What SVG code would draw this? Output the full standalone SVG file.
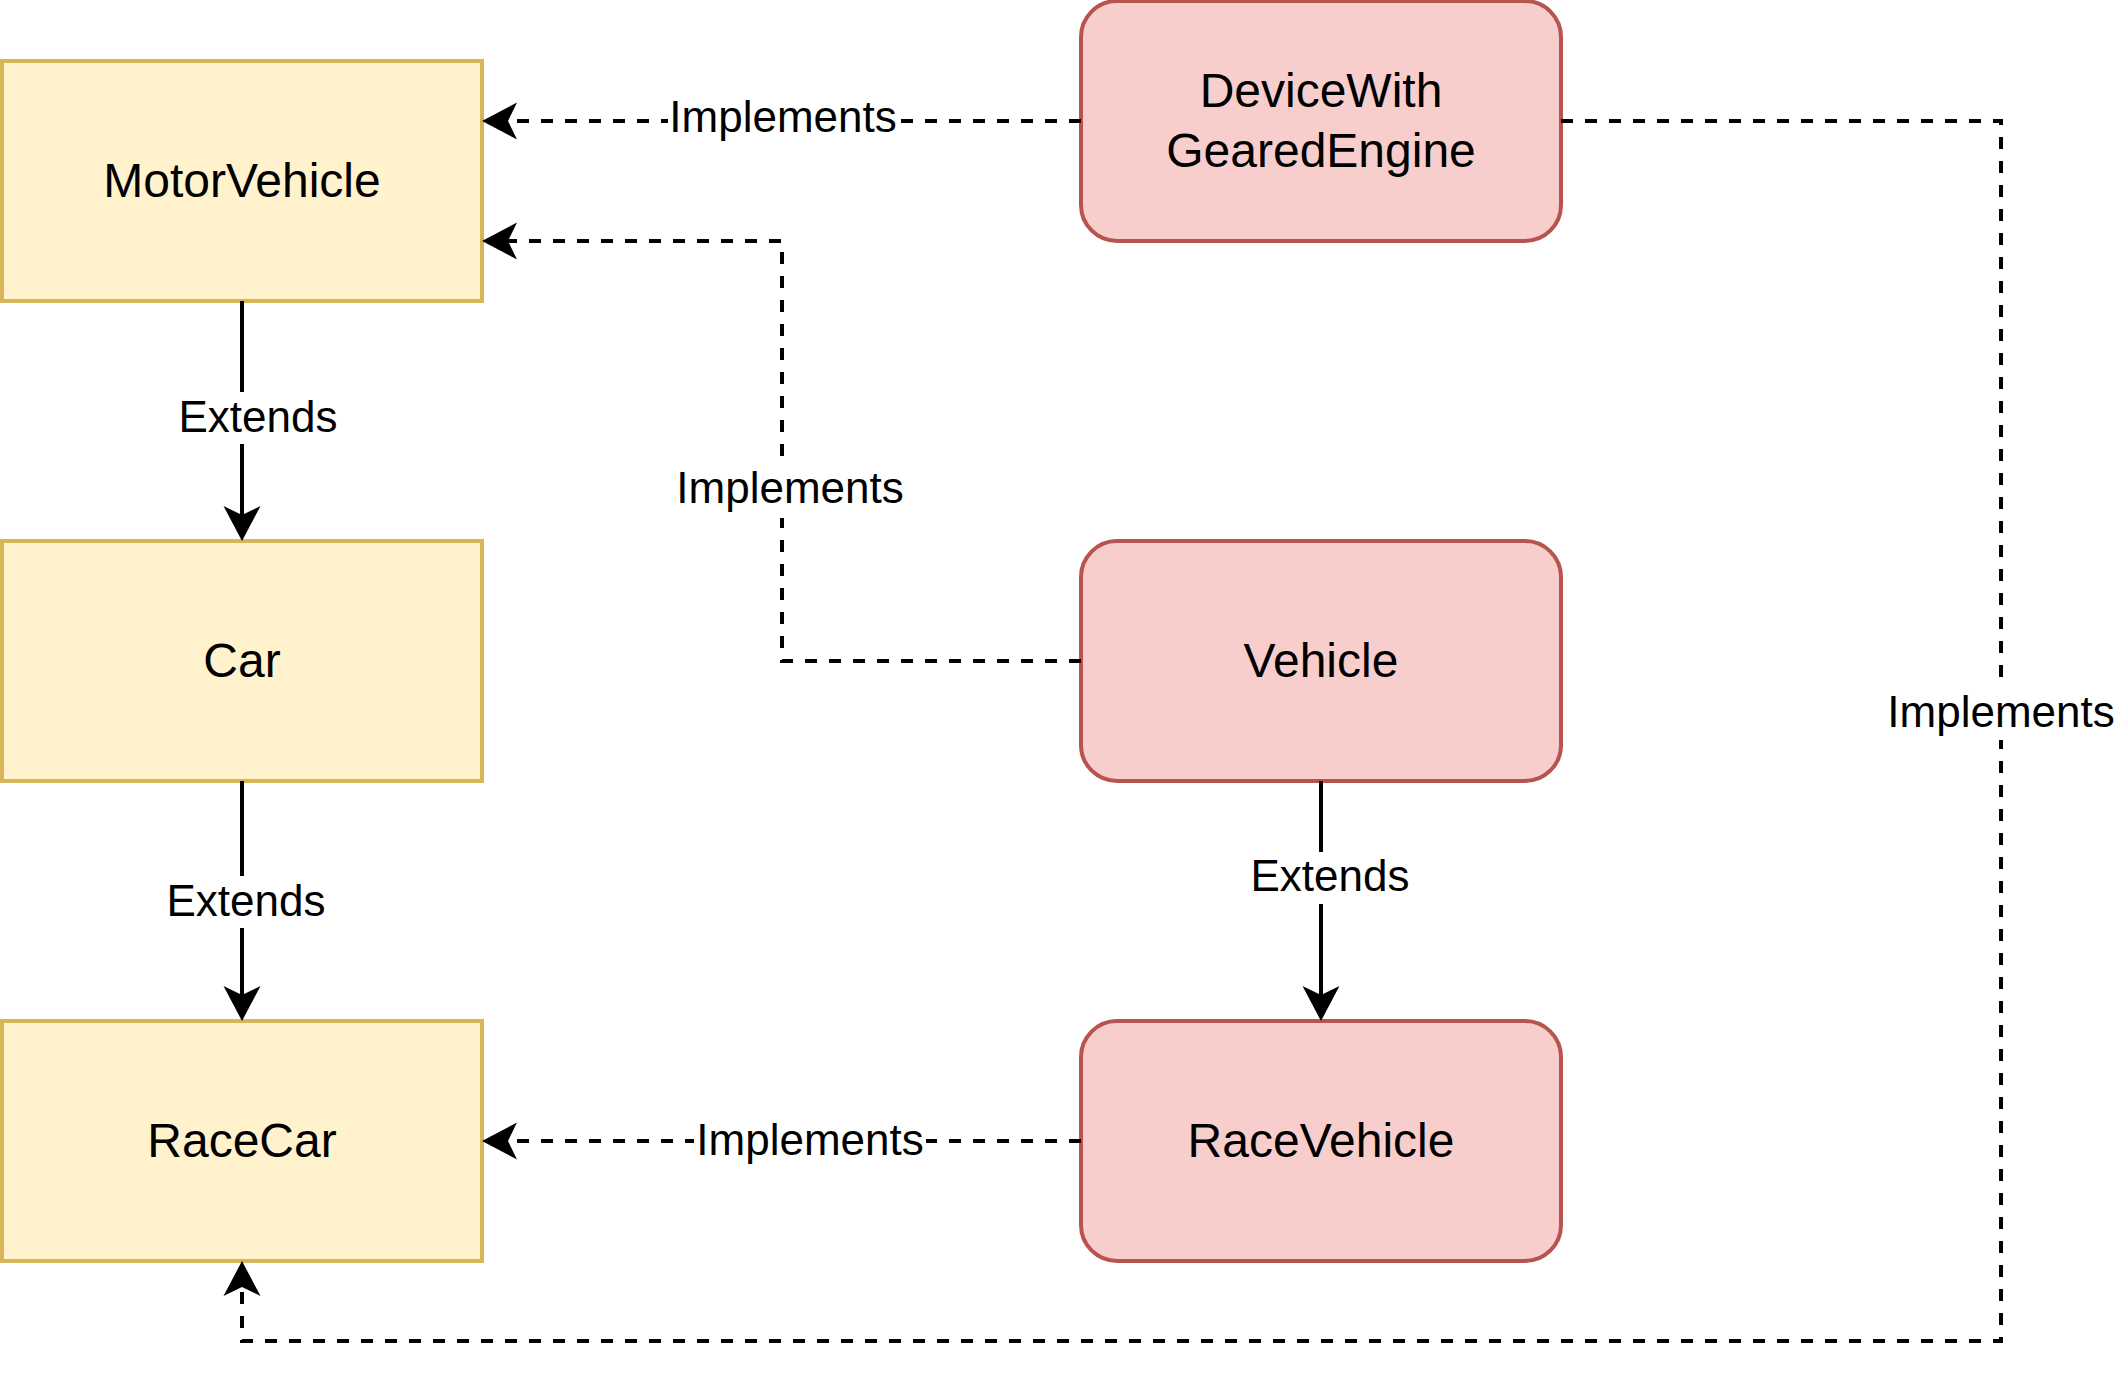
<svg xmlns="http://www.w3.org/2000/svg" width="2116" height="1376" viewBox="0 0 2116 1376">
  <style>
    .yel { fill: #fff2cc; stroke: #d6b656; stroke-width: 4; }
    .red { fill: #f8cecc; stroke: #b85450; stroke-width: 4; }
    .nt { font-family: "Liberation Sans", Arial, Helvetica, sans-serif; font-size: 48px; fill: #000; text-anchor: middle; }
    .lt { font-family: "Liberation Sans", Arial, Helvetica, sans-serif; font-size: 44px; fill: #000; text-anchor: middle; }
    .edge { fill: none; stroke: #000; stroke-width: 4; marker-end: url(#arr); }
    .dash { stroke-dasharray: 12 12; }
    .bg { fill: #fff; stroke: none; }
  </style>
  <defs>
    <marker id="arr" markerUnits="userSpaceOnUse" markerWidth="40" markerHeight="40" refX="9" refY="19" orient="auto" overflow="visible">
      <path d="M0,0.5 L35,19 L0,37.5 L9,19 Z" fill="#000" stroke="none"/>
    </marker>
  </defs>
  <rect width="2116" height="1376" fill="#fff"/>

  <g id="nodes">
    <g id="MotorVehicle">
      <rect class="yel" x="2" y="61" width="480" height="240"/>
      <text class="nt" x="242" y="197">MotorVehicle</text>
    </g>
    <g id="Car">
      <rect class="yel" x="2" y="541" width="480" height="240"/>
      <text class="nt" x="242" y="677">Car</text>
    </g>
    <g id="RaceCar">
      <rect class="yel" x="2" y="1021" width="480" height="240"/>
      <text class="nt" x="242" y="1157">RaceCar</text>
    </g>
    <g id="DeviceWithGearedEngine">
      <rect class="red" x="1081" y="1" width="480" height="240" rx="36" ry="36"/>
      <text class="nt" x="1321" y="107">DeviceWith</text>
      <text class="nt" x="1321" y="167">GearedEngine</text>
    </g>
    <g id="Vehicle">
      <rect class="red" x="1081" y="541" width="480" height="240" rx="36" ry="36"/>
      <text class="nt" x="1321" y="677">Vehicle</text>
    </g>
    <g id="RaceVehicle">
      <rect class="red" x="1081" y="1021" width="480" height="240" rx="36" ry="36"/>
      <text class="nt" x="1321" y="1157">RaceVehicle</text>
    </g>
  </g>

  <g id="connectors">
    <g id="e1">
      <path class="edge dash" d="M1081,121 H508"/>
      <rect class="bg" x="668" y="104" width="230" height="34"/>
      <text class="lt" x="783" y="132">Implements</text>
    </g>
    <g id="e2">
      <path class="edge dash" d="M1081,661 H782 V241 H508"/>
      <rect class="bg" x="676" y="458" width="230" height="60"/>
      <text class="lt" x="790" y="503">Implements</text>
    </g>
    <g id="e3">
      <path class="edge dash" d="M1081,1141 H508"/>
      <rect class="bg" x="694" y="1124" width="232" height="34"/>
      <text class="lt" x="810" y="1155">Implements</text>
    </g>
    <g id="e4">
      <path class="edge dash" d="M1561,121 H2001 V1341 H242 V1287"/>
      <rect class="bg" x="1888" y="679" width="226" height="61"/>
      <text class="lt" x="2001" y="727">Implements</text>
    </g>
    <g id="e5">
      <path class="edge" d="M242,301 V515"/>
      <rect class="bg" x="178" y="392" width="160" height="52"/>
      <text class="lt" x="258" y="432">Extends</text>
    </g>
    <g id="e6">
      <path class="edge" d="M242,781 V995"/>
      <rect class="bg" x="166" y="876" width="160" height="52"/>
      <text class="lt" x="246" y="916">Extends</text>
    </g>
    <g id="e7">
      <path class="edge" d="M1321,781 V995"/>
      <rect class="bg" x="1250" y="852" width="160" height="52"/>
      <text class="lt" x="1330" y="891">Extends</text>
    </g>
  </g>
</svg>
